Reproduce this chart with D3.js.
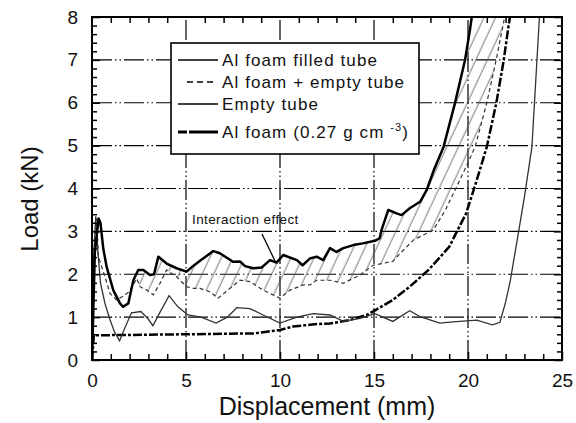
<!DOCTYPE html>
<html>
<head>
<meta charset="utf-8">
<script src="https://d3js.org/d3.v7.min.js"></script>
<style>
  body { margin: 0; background: white; }
  svg { font-family: "Liberation Sans", Arial, Helvetica, sans-serif; }
</style>
</head>
<body>
<script>
// *** data: [displacement mm, load kN]
var filledTube = [[0,0],[0.15,2.5],[0.35,3.3],[0.45,3.2],[0.6,2.6],[0.78,2.17],[1.13,1.63],[1.49,1.32],[1.66,1.24],[1.93,1.32],
  [2.2,1.86],[2.46,2.1],[2.73,2.1],[3.09,1.98],[3.3,2.0],[3.53,2.41],[3.97,2.25],[4.5,2.14],[5.03,2.06],[5.4,2.2],[5.8,2.33],
  [6.45,2.54],[6.8,2.49],[7.5,2.29],[7.87,2.3],[8.14,2.19],[8.57,2.14],[9.03,2.16],[9.47,2.33],[9.82,2.27],[10.17,2.45],
  [10.9,2.33],[11.2,2.21],[11.6,2.37],[11.95,2.41],[12.3,2.33],[12.66,2.61],[13.0,2.52],[13.37,2.61],[13.9,2.68],[14.4,2.72],
  [15.05,2.78],[15.3,2.84],[15.4,3.03],[15.76,3.5],[16.2,3.42],[16.47,3.38],[16.9,3.54],[17.45,3.69],[17.8,3.96],[18.2,4.45],
  [18.7,4.97],[19.3,5.98],[19.84,6.99],[20.1,7.69],[20.2,8]];

var foamPlusTube = [[0,0],[0.15,2.8],[0.25,3.3],[0.34,2.41],[0.69,1.94],[0.96,1.55],[1.31,1.4],[1.7,1.5],[2.0,1.6],[2.38,1.9],
  [2.55,1.71],[2.91,1.63],[3.26,1.52],[3.62,1.79],[3.97,2.1],[4.5,1.94],[5.03,1.71],[5.39,1.67],[5.74,1.67],[6.28,1.59],
  [6.7,1.44],[7.34,1.67],[7.87,1.86],[8.4,1.83],[9.1,1.63],[10.0,1.44],[10.53,1.63],[11.24,1.75],[11.6,1.75],[11.95,1.86],
  [12.66,1.86],[13.37,1.79],[14.25,1.98],[14.96,2.21],[16.0,2.3],[16.4,2.49],[17.1,2.8],[18.15,3.03],[18.8,3.5],[19.35,4.0],
  [20.0,4.6],[20.4,5.0],[21.0,6.0],[21.5,7.0],[21.95,8]];

var emptyTube = [[0,0],[0.1,2.5],[0.2,3.35],[0.3,2.6],[0.45,1.8],[0.7,1.3],[0.95,0.95],[1.2,0.65],[1.47,0.45],[1.7,0.7],
  [2.1,1.1],[2.6,1.13],[3.0,0.95],[3.24,0.8],[3.6,1.1],[4.1,1.5],[4.57,1.24],[5.1,1.05],[5.8,1.0],[6.6,0.86],[7.2,1.0],
  [7.7,1.22],[8.4,1.2],[9.1,1.05],[10.0,0.86],[10.9,1.0],[11.77,1.08],[12.66,1.05],[13.37,0.9],[14.26,0.97],[15.05,1.08],
  [16.0,0.9],[16.9,1.15],[17.45,1.01],[18.5,0.86],[19.2,0.89],[20.46,0.93],[21.3,0.82],[21.7,0.88],[22.0,1.35],[22.25,1.85],
  [22.5,2.5],[22.77,3.2],[23.0,3.8],[23.4,4.97],[23.8,8]];

var alFoam = [[0,0],[0.1,0.58],[1,0.58],[5,0.6],[8.6,0.62],[9.3,0.66],[10,0.7],[10.7,0.78],[11.95,0.84],[12.66,0.85],
  [13.7,0.93],[14.6,1.05],[15.1,1.17],[16.0,1.4],[16.9,1.71],[17.9,2.1],[19.0,2.64],[19.9,3.42],[20.4,4.1],[21.0,4.97],
  [21.5,5.98],[21.9,6.99],[22.15,7.77],[22.23,8]];

var xTicks = [0, 5, 10, 15, 20, 25];
var yTicks = [0, 1, 2, 3, 4, 5, 6, 7, 8];
var legendNames = ["Al foam filled tube", "Al foam + empty tube", "Empty tube", "Al foam (0.27 g cm "];

var W = 576, H = 423;
var plotL = 92, plotR = 562, plotT = 17, plotB = 360;

var svg = d3.select("body").append("svg").attr("width", W).attr("height", H);

// *** scales
var x = d3.scaleLinear().domain([0, 25]).range([plotL, plotR]);
var y = d3.scaleLinear().domain([0, 8]).range([plotB, plotT]);

var gridDash = "20,3,1.5,3,1.5,3";

// *** grid lines (dash-dot-dot)
svg.append("g").selectAll("line").data(yTicks.slice(1, 8)).enter().append("line")
  .attr("x1", plotL).attr("x2", plotR)
  .attr("y1", function(d){ return y(d); }).attr("y2", function(d){ return y(d); })
  .attr("stroke", "black").attr("stroke-width", 1.2).attr("stroke-dasharray", gridDash);
svg.append("g").selectAll("line").data(xTicks.slice(1, 5)).enter().append("line")
  .attr("y1", plotB).attr("y2", plotT)
  .attr("x1", function(d){ return x(d); }).attr("x2", function(d){ return x(d); })
  .attr("stroke", "black").attr("stroke-width", 1.2).attr("stroke-dasharray", gridDash);

var defs = svg.append("defs");
// *** clip to plot area
defs.append("clipPath").attr("id", "plot")
  .append("rect").attr("x", plotL).attr("y", plotT).attr("width", plotR - plotL).attr("height", plotB - plotT);

// *** hatch pattern
var pat = defs.append("pattern")
  .attr("id", "hatch").attr("patternUnits", "userSpaceOnUse")
  .attr("width", 10.5).attr("height", 10)
  .attr("patternTransform", "rotate(25)");
pat.append("line").attr("x1", 5).attr("y1", 0).attr("x2", 5).attr("y2", 10)
  .attr("stroke", "#555").attr("stroke-width", 0.8);

var line = d3.line()
  .x(function(d){ return x(d[0]); })
  .y(function(d){ return y(d[1]); });

var plot = svg.append("g").attr("clip-path", "url(#plot)");

// hatched band between filled tube and foam + empty tube
var upper = filledTube.filter(function(d){ return d[0] >= 2.2; });
var lower = foamPlusTube.filter(function(d){ return d[0] >= 2.2; }).reverse();
plot.append("path")
  .attr("d", line(upper.concat(lower)) + "Z")
  .attr("fill", "url(#hatch)").attr("stroke", "none");

plot.append("path").attr("d", line(alFoam))
  .attr("fill", "none").attr("stroke", "black").attr("stroke-width", 2.5)
  .attr("stroke-dasharray", "9,2,3,2");
plot.append("path").attr("d", line(emptyTube))
  .attr("fill", "none").attr("stroke", "#333").attr("stroke-width", 1.3);
plot.append("path").attr("d", line(foamPlusTube))
  .attr("fill", "none").attr("stroke", "#333").attr("stroke-width", 1.2)
  .attr("stroke-dasharray", "4,3");
plot.append("path").attr("d", line(filledTube))
  .attr("fill", "none").attr("stroke", "black").attr("stroke-width", 2.5)
  .attr("stroke-linejoin", "round");

// *** axes, inward ticks on all four sides
var minorX = d3.range(1, 25).filter(function(d){ return d % 5 != 0; });
var minorY = d3.range(1, 40).map(function(i){ return i / 5; }).filter(function(d){ return Math.abs(d - Math.round(d)) > 0.01; });

function noLabel(){ return ""; }
svg.append("g").attr("transform", "translate(0," + plotB + ")")
  .call(d3.axisBottom(x).tickValues(minorX).tickSize(-6).tickFormat(noLabel));
svg.append("g").attr("transform", "translate(0," + plotT + ")")
  .call(d3.axisTop(x).tickValues(minorX).tickSize(-6).tickFormat(noLabel));
svg.append("g").attr("transform", "translate(" + plotL + ",0)")
  .call(d3.axisLeft(y).tickValues(minorY).tickSize(-5).tickFormat(noLabel));
svg.append("g").attr("transform", "translate(" + plotR + ",0)")
  .call(d3.axisRight(y).tickValues(minorY).tickSize(-5).tickFormat(noLabel));
svg.append("g").attr("transform", "translate(" + plotL + ",0)")
  .call(d3.axisLeft(y).tickValues(yTicks).tickSize(-8).tickPadding(14).tickFormat(d3.format("d")));
svg.append("g").attr("transform", "translate(" + plotR + ",0)")
  .call(d3.axisRight(y).tickValues(yTicks).tickSize(-8).tickFormat(noLabel));
svg.append("g").attr("transform", "translate(0," + plotB + ")")
  .call(d3.axisBottom(x).tickValues(xTicks).tickSize(-8).tickPadding(14).tickFormat(d3.format("d")));

svg.selectAll(".domain").remove();
svg.selectAll(".tick line").attr("stroke", "black").attr("stroke-width", 1.5);
svg.selectAll(".tick text").attr("font-size", 19).attr("fill", "#111")
  .attr("font-family", "Liberation Sans, Arial, sans-serif");

svg.append("rect").attr("x", plotL).attr("y", plotT)
  .attr("width", plotR - plotL).attr("height", plotB - plotT)
  .attr("fill", "none").attr("stroke", "black").attr("stroke-width", 2);

// *** axis titles
svg.append("text").attr("x", 327).attr("y", 415)
  .attr("text-anchor", "middle").attr("font-size", 25).attr("fill", "#111")
  .text("Displacement (mm)");
svg.append("text").attr("transform", "translate(38,199) rotate(-90)")
  .attr("text-anchor", "middle").attr("font-size", 24).attr("fill", "#111")
  .text("Load (kN)");

// *** legend
var lg = svg.append("g");
lg.append("rect").attr("x", 171).attr("y", 43).attr("width", 248).attr("height", 111)
  .attr("fill", "white").attr("stroke", "black").attr("stroke-width", 1.6);
var rowY = [60, 82, 104, 132];
var sample = [
  { x1: 178, x2: 218, w: 1.4, dash: null },
  { x1: 187, x2: 214, w: 1.3, dash: "6,4" },
  { x1: 178, x2: 218, w: 1.4, dash: null },
  { x1: 178, x2: 218, w: 3, dash: "9,2,28,0" }
];
sample.forEach(function(s, i){
  lg.append("line").attr("x1", s.x1).attr("x2", s.x2).attr("y1", rowY[i]).attr("y2", rowY[i])
    .attr("stroke", "black").attr("stroke-width", s.w)
    .attr("stroke-dasharray", s.dash);
  var t = lg.append("text").attr("x", 222).attr("y", rowY[i] + 6)
    .attr("font-size", 17).attr("letter-spacing", 1.1).attr("fill", "#111")
    .text(legendNames[i]);
  if (i == 3) {
    t.append("tspan").attr("dy", -7).attr("font-size", 11).text("-3");
    t.append("tspan").attr("dy", 7).text(")");
  }
});

// *** annotation
svg.append("text").attr("x", 192).attr("y", 224)
  .attr("font-size", 13.5).attr("letter-spacing", 0.4).attr("fill", "#111")
  .text("Interaction effect");
svg.append("line").attr("x1", 262).attr("y1", 234).attr("x2", 276).attr("y2", 263)
  .attr("stroke", "black").attr("stroke-width", 1.3);
</script>
</body>
</html>
